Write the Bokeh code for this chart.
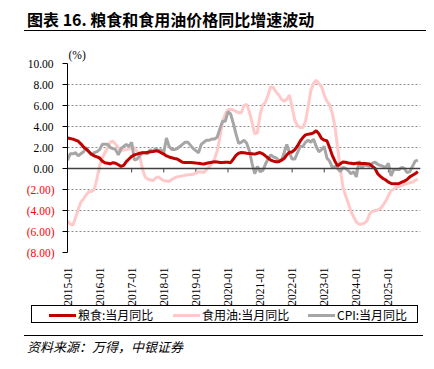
import math
from bokeh.plotting import figure
from bokeh.models import Range1d, FixedTicker, Span, Div, LinearAxis
from bokeh.layouts import column
from bokeh.embed import file_html
from bokeh.resources import INLINE

# ---- data (monthly, 2015-01 .. 2025-12) ----
tick_labels = ["2015-01", "2016-01", "2017-01", "2018-01", "2019-01", "2020-01",
               "2021-01", "2022-01", "2023-01", "2024-01", "2025-01"]
y_ticks = [10, 8, 6, 4, 2, 0, -2, -4, -6, -8]

grain = [2.9, 2.85, 2.8, 2.7, 2.6, 2.35, 2.05, 1.85, 1.6, 1.35, 1.2, 1.1,
         1.0, 0.7, 0.55, 0.5, 0.45, 0.55, 0.5, 0.35, 0.2, 0.3, 0.65, 0.9,
         1.15, 1.3, 1.37, 1.45, 1.5, 1.5, 1.55, 1.6, 1.62, 1.68, 1.65, 1.5,
         1.37, 1.2, 1.1, 1.02, 0.95, 0.9, 0.75, 0.6, 0.57, 0.57, 0.57, 0.55,
         0.52, 0.5, 0.45, 0.42, 0.5, 0.55, 0.6, 0.64, 0.62, 0.58, 0.57, 0.6,
         0.6, 0.55, 0.9, 1.25, 1.45, 1.52, 1.5, 1.45, 1.42, 1.4, 1.37, 1.45,
         1.52, 1.4, 1.2, 1.0, 0.8, 0.7, 0.65, 0.64, 0.8, 0.95, 1.3, 1.55,
         1.58, 1.8, 2.15, 2.6, 2.95, 3.2, 3.27, 3.3, 3.4, 3.59, 3.3, 2.85,
         2.7, 2.64, 2.0, 1.25, 0.7, 0.25, 0.45, 0.62, 0.6, 0.52, 0.5, 0.45,
         0.5, 0.5, 0.48, 0.48, 0.45, 0.42, 0.2, 0.0, -0.5, -0.75, -0.95, -1.1,
         -1.3, -1.42, -1.45, -1.45, -1.43, -1.3, -1.2, -1.05, -0.8, -0.65, -0.5, -0.3]

oil = [-5.0, -5.3, -5.4, -4.7, -3.9, -3.2, -2.9, -2.5, -2.2, -2.2, -2.0, -1.0,
       0.3, 1.0, 1.5, 2.0, 2.5, 2.6, 2.3, 2.0, 1.7, 1.75, 1.8, 1.85,
       1.95, 2.0, 1.6, 1.2, 0.0, -0.8, -1.0, -1.1, -1.15, -0.9, -0.8, -1.0,
       -1.17, -1.2, -1.24, -1.05, -0.9, -0.8, -0.75, -0.7, -0.65, -0.6, -0.58, -0.55,
       -0.45, -0.3, -0.33, -0.38, -0.1, 0.15, 0.5, 0.9, 1.7, 3.0, 4.5, 5.2,
       5.6, 5.65, 5.55, 5.45, 5.3, 5.3, 6.0, 6.1, 5.4, 4.4, 3.3, 3.4,
       5.1, 6.05, 6.3, 7.0, 7.8, 7.7, 7.3, 7.0, 6.6, 6.4, 6.6, 7.0,
       5.8, 4.6, 4.1, 3.9, 3.9, 4.5, 5.9, 7.4, 8.1, 8.4, 8.1, 7.8,
       7.0, 6.4, 6.1, 5.3, 4.0, 2.0, 0.0, -1.8, -2.6, -3.3, -4.1, -4.6,
       -5.1, -5.3, -5.3, -5.2, -5.0, -4.3, -4.1, -4.0, -3.95, -3.8, -3.5, -3.1,
       -2.6, -2.1, -1.95, -1.8, -1.7, -1.6, -1.5, -1.45, -1.35, -1.3, -1.15, -1.0]

cpi = [0.8, 1.4, 1.4, 1.5, 1.2, 1.4, 1.6, 2.0, 1.6, 1.3, 1.5, 1.6,
       1.8, 2.3, 2.3, 2.3, 2.0, 1.9, 1.8, 1.3, 1.9, 2.1, 2.3, 2.1,
       2.5, 0.8, 0.9, 1.2, 1.5, 1.5, 1.4, 1.8, 1.6, 1.9, 1.7, 1.8,
       1.5, 2.9, 2.1, 1.8, 1.8, 1.9, 2.1, 2.3, 2.5, 2.5, 2.2, 1.9,
       1.7, 1.5, 2.3, 2.5, 2.7, 2.7, 2.8, 2.8, 3.0, 3.8, 4.5, 4.5,
       5.4, 5.2, 4.3, 3.3, 2.4, 2.5, 2.7, 2.4, 1.7, 0.5, -0.5, 0.2,
       -0.3, -0.2, 0.4, 0.9, 1.3, 1.1, 1.0, 0.8, 0.7, 1.5, 2.3, 1.5,
       0.9, 0.9, 1.5, 2.1, 2.1, 2.5, 2.7, 2.5, 2.8, 2.1, 1.6, 1.8,
       2.1, 1.0, 0.7, 0.1, 0.2, 0.0, -0.3, 0.1, 0.0, -0.2, -0.5, -0.3,
       -0.8, 0.7, 0.1, 0.3, 0.3, 0.2, 0.5, 0.6, 0.4, 0.3, 0.2, 0.1,
       0.5, -0.7, -0.1, -0.1, -0.1, 0.1, 0.0, -0.4, -0.3, 0.2, 0.7, 0.8]

series_names = ["粮食:当月同比", "食用油:当月同比", "CPI:当月同比"]

months = list(range(len(cpi)))
tick_pos = [12 * i for i in range(len(tick_labels))]
neg_ticks = [t for t in y_ticks if t < 0]

RED = "#C00000"
PINK = "#FFC9C9"
GRAY = "#A6A6A6"
SERIF = "Liberation Serif"
CJK = "Noto Sans CJK SC"
series_colors = [RED, PINK, GRAY]

p = figure(frame_width=353, frame_height=189, output_backend="svg", toolbar_location=None,
           x_range=Range1d(0, 132), y_range=Range1d(-8, 10),
           min_border_left=59, min_border_right=6, min_border_top=32, min_border_bottom=52)
p.outline_line_color = None
p.background_fill_color = "white"
p.xgrid.visible = False
p.ygrid.ticker = FixedTicker(ticks=y_ticks)
p.ygrid.grid_line_color = "#8c8c8c"
p.ygrid.grid_line_dash = "2 2"
p.ygrid.grid_line_width = 1

p.title.text = "(%)"
p.title.align = "left"
p.title.offset = 1
p.title.standoff = 5
p.title.text_font = SERIF
p.title.text_font_size = "11.5px"
p.title.text_font_style = "normal"
p.title.text_color = "black"

# y axis A: ticks + non-negative labels
yax = p.yaxis[0]
yax.ticker = FixedTicker(ticks=y_ticks)
yax.major_label_overrides = {t: (f"{t:.2f}" if t >= 0 else "") for t in y_ticks}
yax.axis_line_color = "black"
yax.major_tick_line_color = "black"
yax.major_tick_out = 5
yax.major_tick_in = 0
yax.minor_tick_line_color = None
yax.major_label_standoff = 9
yax.major_label_text_font = SERIF
yax.major_label_text_font_size = "11.5px"
yax.major_label_text_color = "black"

# y axis B: red negative labels in accounting format
yax_neg = LinearAxis(ticker=FixedTicker(ticks=neg_ticks),
                     major_label_overrides={t: f"({abs(t):.2f})" for t in neg_ticks},
                     axis_line_color=None, major_tick_line_color=None,
                     minor_tick_line_color=None, major_tick_out=0, major_tick_in=0,
                     major_label_standoff=-30, major_label_text_font=SERIF,
                     major_label_text_font_size="11.5px", major_label_text_color="#FF0000")
p.add_layout(yax_neg, "left")

xax = p.xaxis[0]
xax.ticker = FixedTicker(ticks=tick_pos)
xax.major_label_overrides = {pos: lab for pos, lab in zip(tick_pos, tick_labels)}
xax.major_label_orientation = math.pi / 2
xax.axis_line_color = None
xax.major_tick_line_color = None
xax.minor_tick_line_color = None
xax.major_label_standoff = 9
xax.major_label_text_font = SERIF
xax.major_label_text_font_size = "11.5px"
xax.major_label_text_color = "black"

p.add_layout(Span(location=0, dimension="width", line_color="#404040", line_width=1.5))
p.segment(x0=tick_pos, y0=[0] * len(tick_pos), x1=tick_pos, y1=[-0.38] * len(tick_pos),
          line_color="#404040", line_width=1)

p.line(months, oil, line_color=PINK, line_width=3)
p.line(months, cpi, line_color=GRAY, line_width=3)
p.line(months, grain, line_color=RED, line_width=3)

# ---- legend strip (HTML) ----
item_left = [17, 141, 276]
items_html = ""
for name, col, lx in zip(series_names, series_colors, item_left):
    items_html += (f'<div style="position:absolute;left:{lx}px;top:8px;width:27px;height:3px;'
                   f'background:{col};"></div>'
                   f'<div style="position:absolute;left:{lx + 29}px;top:0px;height:18px;'
                   f'line-height:18px;font-family:\'Noto Sans CJK SC\';font-size:12px;'
                   f'color:#000;white-space:nowrap;">{name}</div>')
legend_div = Div(text=('<div style="position:relative;width:418px;height:27px;">'
                       '<div style="position:absolute;left:23px;top:-3px;width:387px;height:18px;'
                       'border:1px solid #000;">' + items_html + '</div></div>'),
                 width=418, height=27, margin=(0, 0, 0, 0))

title_div = Div(text=('<div style="margin-left:16px;width:399px;height:22px;line-height:22px;'
                      'border-bottom:1px solid #000;font-family:\'Noto Sans CJK SC\';'
                      'font-size:16px;font-weight:bold;color:#000;padding-left:3px;'
                      'box-sizing:content-box;white-space:nowrap;">'
                      '图表 16. 粮食和食用油价格同比增速波动</div>'),
                width=418, height=23, margin=(0, 0, 0, 0))
footer_div = Div(text=('<div style="margin-left:16px;width:399px;height:22px;line-height:21px;'
                       'border-top:1px solid #000;font-family:\'Noto Sans CJK SC\';'
                       'font-size:13px;font-style:italic;color:#000;padding-left:3px;'
                       'white-space:nowrap;">资料来源：万得，中银证券</div>'),
                 width=418, height=23, margin=(0, 0, 0, 0))

layout = column(title_div, p, legend_div, footer_div, spacing=0, margin=(8, 0, 0, 8))
open("out.html", "w").write(file_html(layout, INLINE))
